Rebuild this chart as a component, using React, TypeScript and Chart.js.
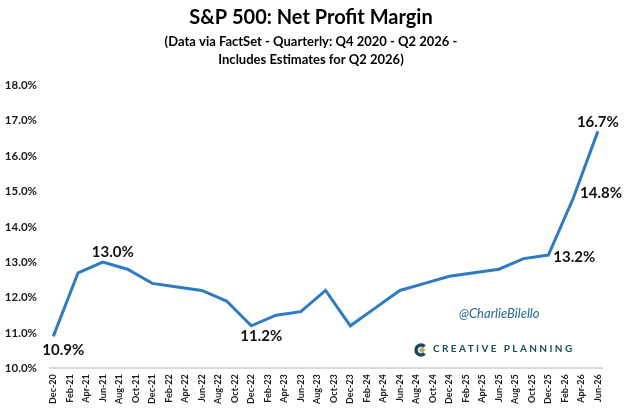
import React, { useEffect, useRef } from 'react';
import { Chart, registerables } from 'chart.js';

Chart.register(...registerables);

// quarterly net profit margin (%), Q4 2020 - Q2 2026
const quarters = [
  'Dec-20', 'Mar-21', 'Jun-21', 'Sep-21', 'Dec-21', 'Mar-22', 'Jun-22', 'Sep-22',
  'Dec-22', 'Mar-23', 'Jun-23', 'Sep-23', 'Dec-23', 'Mar-24', 'Jun-24', 'Sep-24',
  'Dec-24', 'Mar-25', 'Jun-25', 'Sep-25', 'Dec-25', 'Mar-26', 'Jun-26',
];
const margins = [
  10.9, 12.7, 13.0, 12.8, 12.4, 12.3, 12.2, 11.9,
  11.2, 11.5, 11.6, 12.2, 11.2, 11.7, 12.2, 12.4,
  12.6, 12.7, 12.8, 13.1, 13.2, 14.8, 16.7,
];
const tickLabels = [
  'Dec-20', 'Feb-21', 'Apr-21', 'Jun-21', 'Aug-21', 'Oct-21', 'Dec-21',
  'Feb-22', 'Apr-22', 'Jun-22', 'Aug-22', 'Oct-22', 'Dec-22',
  'Feb-23', 'Apr-23', 'Jun-23', 'Aug-23', 'Oct-23', 'Dec-23',
  'Feb-24', 'Apr-24', 'Jun-24', 'Aug-24', 'Oct-24', 'Dec-24',
  'Feb-25', 'Apr-25', 'Jun-25', 'Aug-25', 'Oct-25', 'Dec-25',
  'Feb-26', 'Apr-26', 'Jun-26',
];
const yMin = 10;
const yMax = 18;
const labelledQuarters = ['Dec-20', 'Jun-21', 'Dec-22', 'Dec-25', 'Mar-26', 'Jun-26'];

const MONTHS = ['Jan', 'Feb', 'Mar', 'Apr', 'May', 'Jun', 'Jul', 'Aug', 'Sep', 'Oct', 'Nov', 'Dec'];
const toMonth = (s: string) => {
  const [m, y] = s.split('-');
  return Number(y) * 12 + MONTHS.indexOf(m);
};
const base = toMonth(tickLabels[0]);

const FONT = 'Lato, "Open Sans", sans-serif';
const LINE = '#2e7bc4';

// where each value label sits relative to its point
const labelStyle: Record<string, { dx: number; dy: number; align: CanvasTextAlign }> = {
  'Dec-20': { dx: 10, dy: 14, align: 'center' },
  'Jun-21': { dx: 10, dy: -10, align: 'center' },
  'Dec-22': { dx: 10, dy: 10, align: 'center' },
  'Dec-25': { dx: 5, dy: 2, align: 'left' },
  'Mar-26': { dx: 7, dy: -5, align: 'left' },
  'Jun-26': { dx: 0, dy: -9, align: 'center' },
};

const valueLabels = {
  id: 'valueLabels',
  afterDatasetsDraw(chart: Chart) {
    const { ctx } = chart;
    const meta = chart.getDatasetMeta(0);
    ctx.save();
    ctx.font = `bold 15px ${FONT}`;
    ctx.fillStyle = '#111';
    ctx.textBaseline = 'middle';
    labelledQuarters.forEach((q) => {
      const i = quarters.indexOf(q);
      const pt = meta.data[i];
      const st = labelStyle[q];
      ctx.textAlign = st.align;
      ctx.fillText(margins[i].toFixed(1) + '%', pt.x + st.dx, pt.y + st.dy);
    });
    ctx.restore();
  },
};

const branding = {
  id: 'branding',
  afterDraw(chart: Chart) {
    const { ctx } = chart;
    ctx.save();
    ctx.font = `italic 13px ${FONT}`;
    ctx.fillStyle = '#24698f';
    ctx.textAlign = 'left';
    ctx.textBaseline = 'middle';
    ctx.fillText('@CharlieBilello', 459, 314);

    // logo mark
    ctx.strokeStyle = '#1d4a5e';
    ctx.lineWidth = 3.5;
    ctx.beginPath();
    ctx.arc(421, 350, 5, Math.PI * 0.25, Math.PI * 1.75, false);
    ctx.stroke();
    ctx.fillStyle = '#c8a97e';
    ctx.beginPath();
    ctx.moveTo(422, 346.5);
    ctx.lineTo(425.5, 350);
    ctx.lineTo(422, 353.5);
    ctx.lineTo(418.5, 350);
    ctx.closePath();
    ctx.fill();

    ctx.font = `bold 10px ${FONT}`;
    ctx.fillStyle = '#1d4a5e';
    (ctx as any).letterSpacing = '2.4px';
    ctx.fillText('CREATIVE PLANNING', 433, 349);
    ctx.restore();
  },
};

const App: React.FC = () => {
  const chartRef = useRef<HTMLCanvasElement>(null);
  const chartInstance = useRef<Chart | null>(null);

  useEffect(() => {
    if (!chartRef.current) return;
    if (chartInstance.current) chartInstance.current.destroy();

    chartInstance.current = new Chart(chartRef.current, {
      type: 'line',
      data: {
        datasets: [{
          label: 'Net Profit Margin',
          data: quarters.map((q, i) => ({ x: toMonth(q) - base, y: margins[i] })),
          borderColor: LINE,
          borderWidth: 3,
          pointRadius: 0,
          tension: 0,
        }],
      },
      options: {
        responsive: false,
        animation: false,
        layout: { padding: { left: 4, right: 6, bottom: 0 } },
        plugins: {
          legend: { display: false },
          tooltip: { enabled: false },
          title: {
            display: true,
            text: 'S&P 500: Net Profit Margin',
            color: '#000',
            font: { family: FONT, size: 20, weight: 'bold' },
            padding: { top: 6, bottom: 3 },
          },
          subtitle: {
            display: true,
            text: [
              '(Data via FactSet - Quarterly: Q4 2020 - Q2 2026 -',
              'Includes Estimates for Q2 2026)',
            ],
            color: '#000',
            font: { family: FONT, size: 13, weight: 'bold', lineHeight: 1.4 },
            padding: { top: 0, bottom: 16 },
          },
        },
        scales: {
          x: {
            type: 'linear',
            min: -0.4,
            max: toMonth(tickLabels[tickLabels.length - 1]) - base + 0.5,
            afterBuildTicks: (scale: any) => {
              scale.ticks = tickLabels.map((l) => ({ value: toMonth(l) - base }));
            },
            afterFit: (scale: any) => {
              scale.paddingLeft = 0;
              scale.paddingRight = 22;
            },
            grid: { display: false, drawTicks: false },
            border: { display: true, color: '#d9d9d9', width: 2 },
            ticks: {
              autoSkip: false,
              minRotation: 90,
              maxRotation: 90,
              padding: 6,
              color: '#1a1a1a',
              font: { family: FONT, size: 9, weight: 'bold' },
              callback: (_v: any, i: number) => tickLabels[i],
            },
          },
          y: {
            min: yMin,
            max: yMax,
            afterFit: (scale: any) => { scale.width = 46; },
            grid: { display: false, drawTicks: false },
            border: { display: false },
            ticks: {
              stepSize: 1,
              padding: 13,
              color: '#1a1a1a',
              font: { family: FONT, size: 11.5, weight: 'bold' },
              callback: (v: any) => Number(v).toFixed(1) + '%',
            },
          },
        },
      },
      plugins: [valueLabels, branding],
    });

    return () => {
      if (chartInstance.current) {
        chartInstance.current.destroy();
        chartInstance.current = null;
      }
    };
  }, []);

  return (
    <div style={{ position: 'absolute', left: 0, top: 0, width: 624, height: 410, background: '#fff' }}>
      <canvas ref={chartRef} width={624} height={410} style={{ display: 'block' }}></canvas>
    </div>
  );
};

export default App;
